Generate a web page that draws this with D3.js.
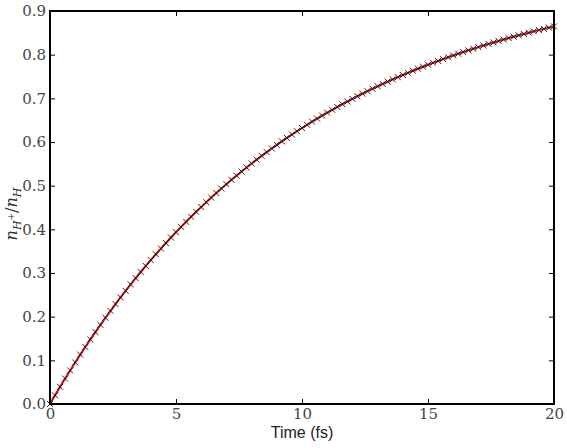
<!DOCTYPE html>
<html>
<head>
<meta charset="utf-8">
<script src="https://cdn.jsdelivr.net/npm/d3@7"></script>
<style>
  body { margin: 0; background: #fff; }
</style>
</head>
<body>
<div id="chart"></div>
<script>
// time points (fs)
var times = [0, 0.2, 0.4, 0.6, 0.8, 1, 1.2, 1.4, 1.6, 1.8, 2, 2.2, 2.4, 2.6, 2.8, 3, 3.2, 3.4, 3.6, 3.8,
  4, 4.2, 4.4, 4.6, 4.8, 5, 5.2, 5.4, 5.6, 5.8, 6, 6.2, 6.4, 6.6, 6.8, 7, 7.2, 7.4, 7.6, 7.8,
  8, 8.2, 8.4, 8.6, 8.8, 9, 9.2, 9.4, 9.6, 9.8, 10, 10.2, 10.4, 10.6, 10.8, 11, 11.2, 11.4, 11.6, 11.8,
  12, 12.2, 12.4, 12.6, 12.8, 13, 13.2, 13.4, 13.6, 13.8, 14, 14.2, 14.4, 14.6, 14.8, 15, 15.2, 15.4, 15.6, 15.8,
  16, 16.2, 16.4, 16.6, 16.8, 17, 17.2, 17.4, 17.6, 17.8, 18, 18.2, 18.4, 18.6, 18.8, 19, 19.2, 19.4, 19.6, 19.8, 20];

// ratio n_H+/n_H
var ratio = [0, 0.0198, 0.0392, 0.0582, 0.0769, 0.0952, 0.1131, 0.1306, 0.1479, 0.1647,
  0.1813, 0.1975, 0.2134, 0.2289, 0.2442, 0.2592, 0.2739, 0.2882, 0.3023, 0.3161,
  0.3297, 0.3430, 0.3560, 0.3687, 0.3812, 0.3935, 0.4055, 0.4173, 0.4288, 0.4401,
  0.4512, 0.4621, 0.4727, 0.4832, 0.4934, 0.5034, 0.5133, 0.5229, 0.5323, 0.5416,
  0.5507, 0.5596, 0.5683, 0.5768, 0.5852, 0.5934, 0.6015, 0.6094, 0.6171, 0.6247,
  0.6321, 0.6394, 0.6465, 0.6535, 0.6604, 0.6671, 0.6737, 0.6802, 0.6865, 0.6927,
  0.6988, 0.7048, 0.7106, 0.7163, 0.7220, 0.7275, 0.7329, 0.7382, 0.7433, 0.7484,
  0.7534, 0.7583, 0.7631, 0.7678, 0.7724, 0.7769, 0.7813, 0.7856, 0.7899, 0.7940,
  0.7981, 0.8021, 0.8060, 0.8099, 0.8136, 0.8173, 0.8209, 0.8245, 0.8280, 0.8314,
  0.8347, 0.8380, 0.8412, 0.8443, 0.8474, 0.8504, 0.8534, 0.8563, 0.8591, 0.8619, 0.8647];

var xTicks = [0, 5, 10, 15, 20];
var yTicks = [0, 0.1, 0.2, 0.3, 0.4, 0.5, 0.6, 0.7, 0.8, 0.9];

var width = 567, height = 448;
var margin = {top: 11, right: 13, bottom: 44, left: 50};
var w = width - margin.left - margin.right;
var h = height - margin.top - margin.bottom;
var serif = "DejaVu Serif";

var svg = d3.select("#chart").append("svg")
  .attr("width", width)
  .attr("height", height);

var g = svg.append("g")
  .attr("transform", "translate(" + margin.left + "," + margin.top + ")");

var x = d3.scaleLinear().domain([0, 20]).range([0, w]);
var y = d3.scaleLinear().domain([0, 0.9]).range([h, 0]);

var data = times.map(function(t, i) { return {t: t, v: ratio[i]}; });

// axes, ticks pointing inward on all four sides
var xAxisG = g.append("g")
  .attr("transform", "translate(0," + h + ")")
  .call(d3.axisBottom(x).tickValues(xTicks).tickFormat(d3.format("d")).tickSizeInner(-5).tickSizeOuter(0).tickPadding(4));
var yAxisG = g.append("g")
  .call(d3.axisLeft(y).tickValues(yTicks).tickFormat(d3.format(".1f")).tickSizeInner(-5).tickSizeOuter(0).tickPadding(4));
g.append("g")
  .call(d3.axisTop(x).tickValues(xTicks).tickFormat("").tickSizeInner(-5).tickSizeOuter(0));
g.append("g")
  .attr("transform", "translate(" + w + ",0)")
  .call(d3.axisRight(y).tickValues(yTicks).tickFormat("").tickSizeInner(-5).tickSizeOuter(0));

xAxisG.attr("font-family", serif).attr("font-size", 15);
yAxisG.attr("font-family", serif).attr("font-size", 15);

g.selectAll(".domain").remove();
g.selectAll(".tick line").attr("stroke", "#000").attr("stroke-width", 1);
g.selectAll(".tick text").attr("fill", "#444");

// red line
var line = d3.line().x(function(d) { return x(d.t); }).y(function(d) { return y(d.v); });
g.append("path")
  .datum(data)
  .attr("d", line)
  .attr("fill", "none")
  .attr("stroke", "#d01010")
  .attr("stroke-width", 2);

// black x markers
var s = 3;
g.selectAll(".mk")
  .data(data)
  .enter()
  .append("path")
  .attr("class", "mk")
  .attr("d", function(d) {
    var cx = x(d.t), cy = y(d.v);
    return "M" + (cx - s) + "," + (cy - s) + "L" + (cx + s) + "," + (cy + s) +
           "M" + (cx - s) + "," + (cy + s) + "L" + (cx + s) + "," + (cy - s);
  })
  .attr("stroke", "#111")
  .attr("stroke-width", 0.9)
  .attr("fill", "none");

// frame
g.append("rect")
  .attr("width", w)
  .attr("height", h)
  .attr("fill", "none")
  .attr("stroke", "#000")
  .attr("stroke-width", 2);

// x label
svg.append("text")
  .attr("x", margin.left + w / 2)
  .attr("y", 438)
  .attr("text-anchor", "middle")
  .attr("font-family", "Liberation Sans, Arial, sans-serif")
  .attr("font-size", 16)
  .attr("fill", "#222")
  .text("Time (fs)");

// y label  n_{H+}/n_H
var yl = svg.append("text")
  .attr("transform", "translate(17,214) rotate(-90)")
  .attr("text-anchor", "middle")
  .attr("font-family", serif)
  .attr("font-size", 16)
  .attr("fill", "#333");
yl.append("tspan").attr("font-style", "italic").text("n");
yl.append("tspan").attr("font-style", "italic").attr("font-size", 11).attr("dy", 4).text("H");
yl.append("tspan").attr("font-size", 9).attr("dy", -7).text("+");
yl.append("tspan").attr("dy", 3).text("/");
yl.append("tspan").attr("font-style", "italic").text("n");
yl.append("tspan").attr("font-style", "italic").attr("font-size", 11).attr("dy", 4).text("H");
</script>
</body>
</html>
